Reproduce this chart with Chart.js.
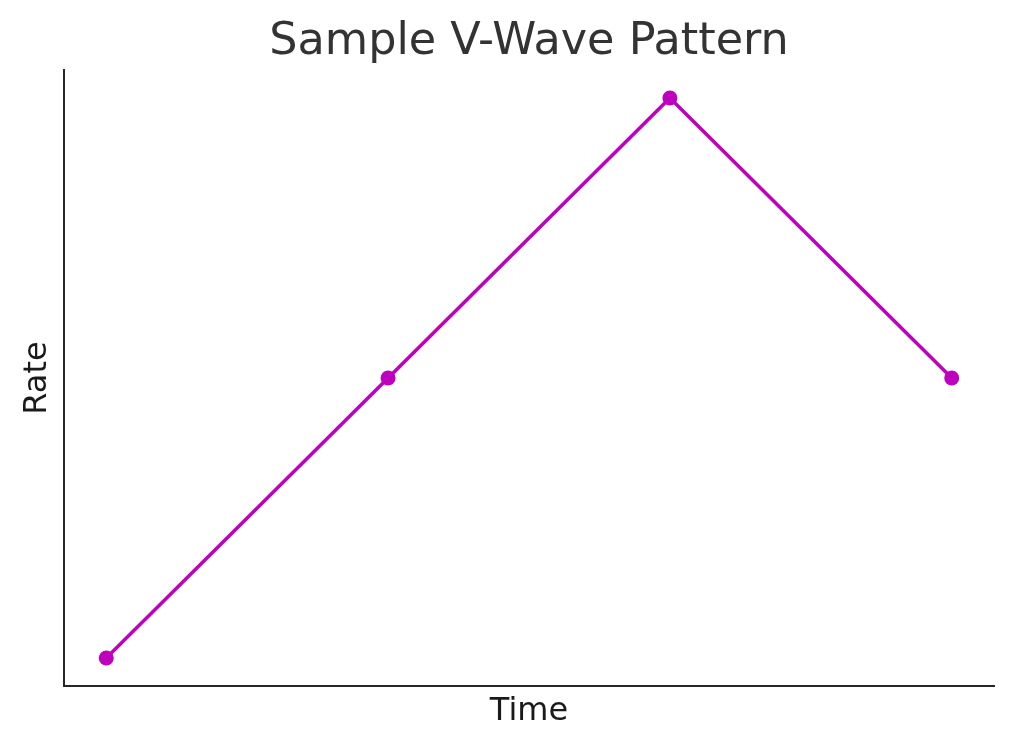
<!DOCTYPE html>
<html>
<head>
<meta charset="utf-8">
<script src="https://cdn.jsdelivr.net/npm/chart.js@4/dist/chart.umd.min.js"></script>
<style>
  html, body { margin: 0; padding: 0; background: #fff; }
  #wrap { width: 1014px; height: 750px; }
</style>
</head>
<body>
<div id="wrap"><canvas id="vwave"></canvas></div>
<script>
// ===== DATA =====
const timeSteps = [0, 1, 2, 3];
const rateValues = [1, 3, 5, 3];

const lineColor = "#bf00bf";
const axisColor = "#262626";
const fontFamily = "'DejaVu Sans', sans-serif";

const points = timeSteps.map((t, i) => ({ x: t, y: rateValues[i] }));

// center the title over the plot area instead of the whole canvas
const centerTitle = {
  id: "centerTitle",
  afterLayout(chart) {
    const tb = chart.titleBlock;
    if (!tb) return;
    tb.left = chart.chartArea.left;
    tb.right = chart.chartArea.right;
  }
};

// ===== CHART =====
const vwaveChart = new Chart(document.getElementById("vwave"), {
  type: "line",
  data: {
    datasets: [{
      label: "Rate",
      data: points,
      borderColor: lineColor,
      backgroundColor: lineColor,
      borderWidth: 3.5,
      pointRadius: 7.5,
      pointHoverRadius: 7.5,
      pointBorderWidth: 0,
      tension: 0
    }]
  },
  plugins: [centerTitle],
  options: {
    responsive: true,
    maintainAspectRatio: false,
    animation: false,
    layout: { padding: { left: 0, right: 20, top: 0, bottom: 0 } },
    plugins: {
      legend: { display: false },
      tooltip: { enabled: false },
      title: {
        display: true,
        text: "Sample V-Wave Pattern",
        color: "#333333",
        font: { family: fontFamily, size: 44.5, weight: "normal" },
        padding: { top: 15.6, bottom: 1 }
      }
    },
    scales: {
      x: {
        type: "linear",
        min: -0.15,
        max: 3.15,
        grid: { display: false },
        border: { display: true, color: axisColor, width: 2 },
        ticks: { display: false },
        title: {
          display: true,
          text: "Time",
          color: "#1a1a1a",
          font: { family: fontFamily, size: 32 },
          padding: { top: 19, bottom: 19 }
        },
        afterFit: (scale) => { scale.height = 64; }
      },
      y: {
        min: 0.8,
        max: 5.2,
        grid: { display: false },
        border: { display: true, color: axisColor, width: 2 },
        ticks: { display: false },
        title: {
          display: true,
          text: "Rate",
          color: "#1a1a1a",
          font: { family: fontFamily, size: 32 },
          padding: { top: 18, bottom: 18 }
        },
        afterFit: (scale) => { scale.width = 64; }
      }
    }
  }
});
</script>
</body>
</html>
